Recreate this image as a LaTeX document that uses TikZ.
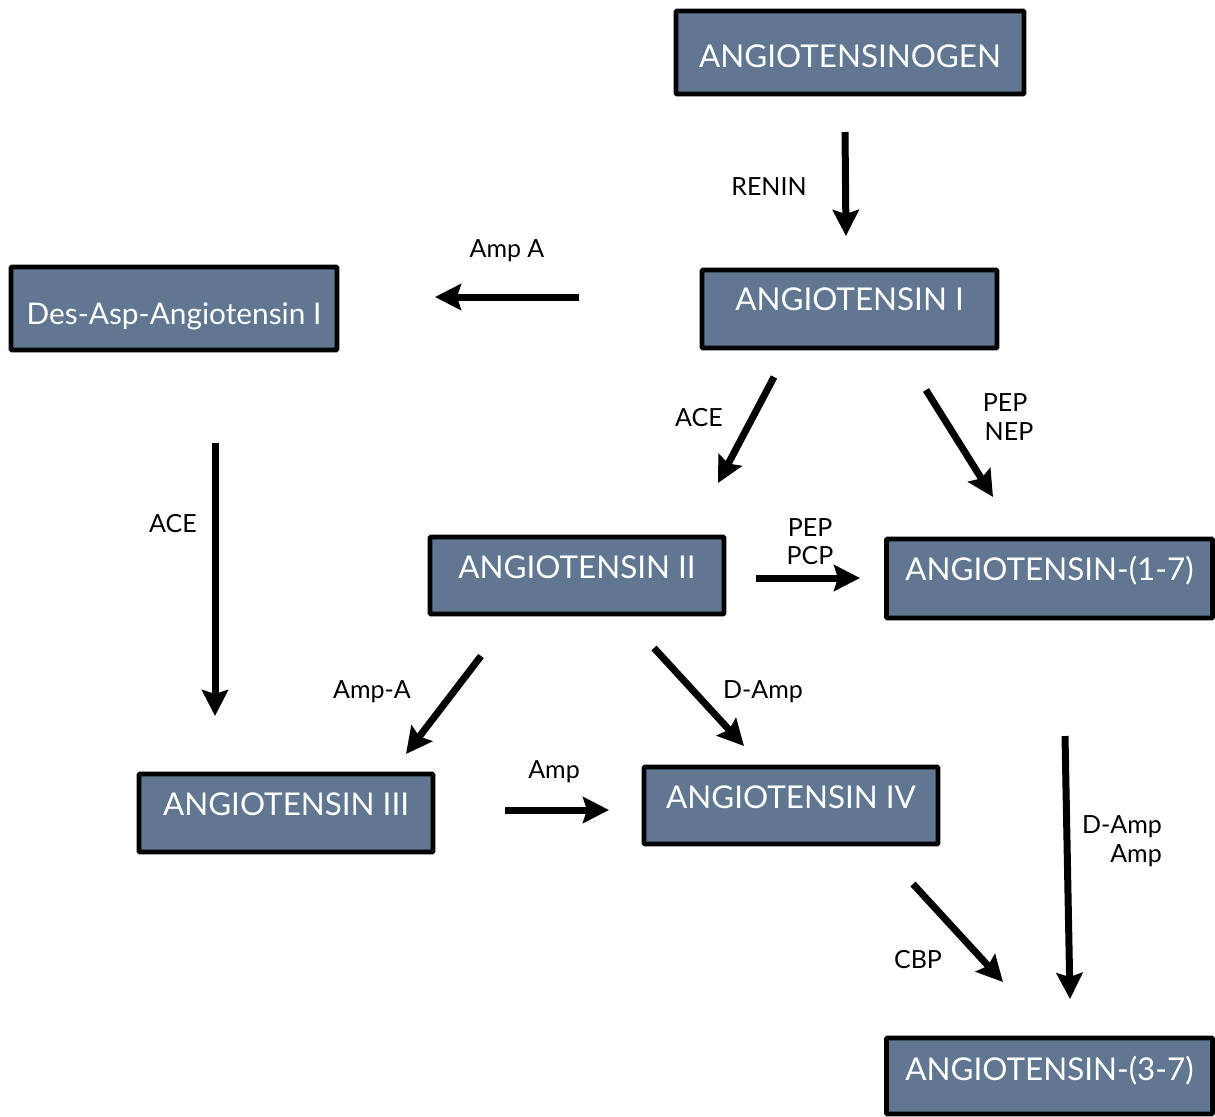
\documentclass[tikz,border=0pt]{standalone}
\usepackage{fontspec}
\setmainfont{Lato}
\usetikzlibrary{arrows.meta}
\definecolor{boxblue}{RGB}{96,118,145}
\newcommand{\boxtxt}[2]{\smash{\raisebox{#1}{#2}}}
\tikzset{
  box/.style={draw=black, line width=2.4pt, fill=boxblue, text=white, font=\fontsize{15.7}{18}\selectfont, inner sep=0pt, rounded corners=0.5pt},
  arr/.style={line width=3.5pt, -{Stealth[length=13pt,width=13pt,inset=2pt]}},
  lab/.style={font=\fontsize{12.5}{14}\selectfont, inner sep=0pt}
}
\begin{document}
\begin{tikzpicture}[x=0.5pt,y=-0.5pt]
\useasboundingbox (0,0) rectangle (1215,1116);
\node[box, minimum width=174pt, minimum height=41.5pt] (gen) at (850,52.5) {\boxtxt{-7.35pt}{ANGIOTENSINOGEN}};
\node[box, minimum width=147.5pt, minimum height=39pt] (a1) at (849.5,309) {\boxtxt{-0.6pt}{ANGIOTENSIN I}};
\node[box, minimum width=163pt, minimum height=41.5pt, font=\fontsize{14.9}{18}\selectfont] (des) at (174,308.5) {\boxtxt{-8.1pt}{Des-Asp-Angiotensin I}};
\node[box, minimum width=147pt, minimum height=38.5pt] (a2) at (577,575.5) {\boxtxt{-1.35pt}{ANGIOTENSIN II}};
\node[box, minimum width=163pt, minimum height=39.5pt] (a17) at (1049.5,578.5) {\boxtxt{-0.85pt}{ANGIOTENSIN-(1-7)}};
\node[box, minimum width=147pt, minimum height=39pt] (a3) at (286,813) {\boxtxt{-1.1pt}{ANGIOTENSIN III}};
\node[box, minimum width=147pt, minimum height=38.5pt] (a4) at (791,805.5) {\boxtxt{-1.35pt}{ANGIOTENSIN IV}};
\node[box, minimum width=163pt, minimum height=38pt] (a37) at (1049.5,1076) {\boxtxt{-2.1pt}{ANGIOTENSIN-(3-7)}};

% arrow endpoints
\coordinate (r0) at (845,132); \coordinate (r1) at (846,236);
\coordinate (aa0) at (579,297); \coordinate (aa1) at (435,297);
\coordinate (c0) at (774,377); \coordinate (c1) at (718,483);
\coordinate (pn0) at (926,390); \coordinate (pn1) at (993,497);
\coordinate (cl0) at (215,443); \coordinate (cl1) at (215,716);
\coordinate (pp0) at (756,578); \coordinate (pp1) at (860,578);
\coordinate (am0) at (481,656); \coordinate (am1) at (406,754);
\coordinate (da0) at (654,648); \coordinate (da1) at (744,746);
\coordinate (ap0) at (505,810); \coordinate (ap1) at (609,810);
\coordinate (dd0) at (1065,736); \coordinate (dd1) at (1070,999);
\coordinate (cb0) at (913,884); \coordinate (cb1) at (1003,982);

\draw[arr] (r0) -- (r1);
\draw[arr] (aa0) -- (aa1);
\draw[arr] (c0) -- (c1);
\draw[arr] (pn0) -- (pn1);
\draw[arr] (cl0) -- (cl1);
\draw[arr] (pp0) -- (pp1);
\draw[arr] (am0) -- (am1);
\draw[arr] (da0) -- (da1);
\draw[arr] (ap0) -- (ap1);
\draw[arr] (dd0) -- (dd1);
\draw[arr] (cb0) -- (cb1);

\node[lab] (lrenin) at (769,187) {RENIN};
\node[lab] (lampa) at (507,251) {Amp A};
\node[lab] (lace1) at (699,418) {ACE};
\node[lab] (lpep1) at (1005,403) {PEP};
\node[lab] (lnep) at (1009,432) {NEP};
\node[lab] (lace2) at (173,524) {ACE};
\node[lab] (lpep2) at (810,528) {PEP};
\node[lab] (lpcp) at (810,556) {PCP};
\node[lab] (lampa2) at (372,692) {Amp-A};
\node[lab] (ldamp) at (763,692) {D-Amp};
\node[lab] (lamp) at (554,772) {Amp};
\node[lab] (ldamp2) at (1122,827) {D-Amp};
\node[lab] (lamp2) at (1136,856) {Amp};
\node[lab] (lcbp) at (918,960) {CBP};
\end{tikzpicture}
\end{document}
